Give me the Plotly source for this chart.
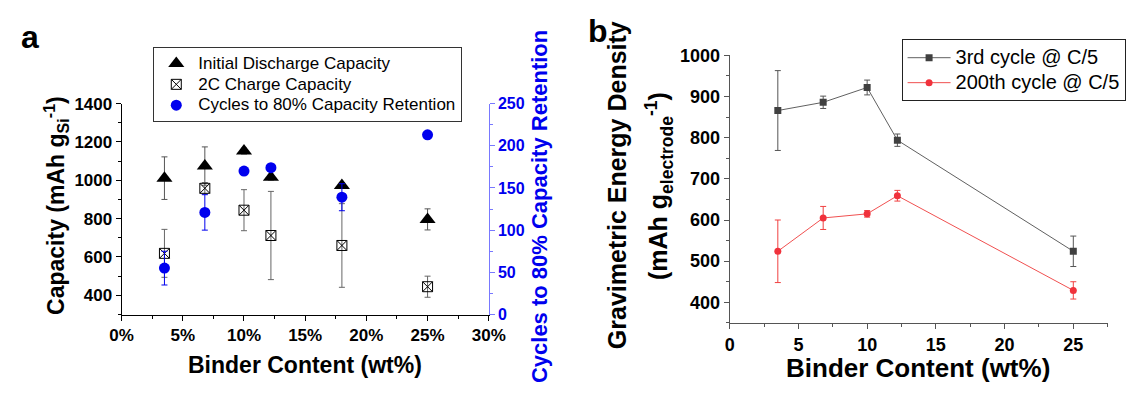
import plotly.graph_objects as go

# ---- Panel a: capacity and cycle life vs. binder content ----
binder_a = [0.035, 0.068, 0.10, 0.122, 0.18, 0.25]
initial_discharge = [1011, 1074, 1152, 1016, 973, 796]
initial_discharge_err = [111, 100, 15, 15, 15, 55]
charge_2c = [619, 958, 844, 712, 660, 445]
charge_2c_err = [125, 30, 107, 230, 218, 55]
cycles_80 = [55, 121, 170, 174, 139, 213]
cycles_80_err = [20, 21, 4, 4, 16, 0]

# ---- Panel b: gravimetric energy density ----
binder_b = [3.5, 6.8, 10, 12.2, 25]
third_cycle = [866, 886, 922, 794, 524]
third_cycle_err = [97, 15, 18, 15, 37]
cycle_200 = [524, 605, 615, 659, 429]
cycle_200_err = [76, 28, 8, 13, 21]

W, H = 1131, 393
FONT = "Arial, 'Liberation Sans', sans-serif"
BLUE = "#0000ee"


def px_x(p):
    return p / W


def px_y(p):
    return 1 - p / H


def entry(label, size):
    # legend rows are spaced by the legend font; the label itself is drawn larger
    return f'<span style="font-size:{size}px">{label}</span>'


fig = go.Figure()

fig.add_trace(go.Scatter(
    x=binder_a, y=initial_discharge, mode="markers",
    name=entry("Initial Discharge Capacity", 17),
    marker=dict(symbol="triangle-up", size=14, color="black"),
    error_y=dict(type="data", array=initial_discharge_err, color="#555555", thickness=1, width=3),
    xaxis="x", yaxis="y", legend="legend",
))
fig.add_trace(go.Scatter(
    x=binder_a, y=charge_2c, mode="markers",
    name=entry("2C Charge Capacity", 17),
    marker=dict(symbol="square-x-open", size=10, color="black", line=dict(width=1)),
    error_y=dict(type="data", array=charge_2c_err, color="#666666", thickness=1, width=3),
    xaxis="x", yaxis="y", legend="legend",
))
fig.add_trace(go.Scatter(
    x=binder_a, y=cycles_80, mode="markers",
    name=entry("Cycles to 80% Capacity Retention", 17),
    marker=dict(symbol="circle", size=11, color=BLUE),
    error_y=dict(type="data", array=cycles_80_err, color=BLUE, thickness=1, width=3),
    xaxis="x", yaxis="y2", legend="legend",
))

fig.add_trace(go.Scatter(
    x=binder_b, y=third_cycle, mode="lines+markers",
    name=entry("3rd cycle @ C/5", 20),
    line=dict(color="#606060", width=1),
    marker=dict(symbol="square", size=7, color="#404040"),
    error_y=dict(type="data", array=third_cycle_err, color="#555555", thickness=1, width=3),
    xaxis="x2", yaxis="y3", legend="legend2",
))
fig.add_trace(go.Scatter(
    x=binder_b, y=cycle_200, mode="lines+markers",
    name=entry("200th cycle @ C/5", 20),
    line=dict(color="#f05050", width=1),
    marker=dict(symbol="circle", size=7, color="#f0323c"),
    error_y=dict(type="data", array=cycle_200_err, color="#f04040", thickness=1, width=3),
    xaxis="x2", yaxis="y3", legend="legend2",
))

tick_a = dict(family=FONT, size=17, color="black", weight="bold")
tick_b = dict(family=FONT, size=18, color="black", weight="bold")
common = dict(showgrid=False, zeroline=False, showline=True, linewidth=1, ticks="outside", ticklen=5)

fig.update_layout(
    width=W, height=H,
    margin=dict(l=0, r=0, t=0, b=0),
    paper_bgcolor="white", plot_bgcolor="white",
    font=dict(family=FONT),
    xaxis=dict(domain=[px_x(112.5), px_x(489.3)], anchor="y", range=[0, 0.30], dtick=0.05,
               tickformat=".0%", linecolor="black", tickcolor="black", tickfont=tick_a,
               minor=dict(dtick=0.025, ticks="outside", ticklen=3, tickcolor="black"), **common),
    yaxis=dict(domain=[px_y(320), px_y(98.3)], anchor="x", range=[300, 1400], tick0=0, dtick=200,
               linecolor="black", tickcolor="black", tickfont=tick_a,
               minor=dict(dtick=100, ticks="outside", ticklen=3, tickcolor="black"), **common),
    yaxis2=dict(overlaying="y", side="right", anchor="x", range=[0, 250], dtick=50,
                linecolor="#7878ff", tickcolor="#7878ff",
                tickfont=dict(family=FONT, size=16, color=BLUE, weight="bold"),
                minor=dict(dtick=25, ticks="outside", ticklen=3, tickcolor="#7878ff"), **common),
    xaxis2=dict(domain=[px_x(736.6), px_x(1124.5)], anchor="y3", range=[0, 27.5], dtick=5,
                linecolor="#555555", tickcolor="#555555", tickfont=tick_b,
                minor=dict(dtick=2.5, ticks="outside", ticklen=3, tickcolor="#555555"), **common),
    yaxis3=dict(domain=[px_y(328.8), px_y(47.7)], anchor="x2", range=[350, 1000], dtick=100,
                linecolor="#555555", tickcolor="#555555", tickfont=tick_b,
                minor=dict(dtick=50, ticks="outside", ticklen=3, tickcolor="#555555"), **common),
    legend=dict(x=px_x(145), y=px_y(39), xanchor="left", yanchor="top",
                bgcolor="white", bordercolor="#333333", borderwidth=1, itemwidth=34,
                font=dict(family=FONT, size=13.7, color="black"), tracegroupgap=0),
    legend2=dict(x=px_x(913), y=px_y(30.7), xanchor="left", yanchor="top",
                 bgcolor="white", bordercolor="#222222", borderwidth=1, itemwidth=43,
                 font=dict(family=FONT, size=16.9, color="black"), tracegroupgap=0),
    showlegend=True,
)

ann = [
    dict(text="a", x=px_x(18), y=px_y(28), font=dict(size=32, weight="bold")),
    dict(text="b", x=px_x(601), y=px_y(22), font=dict(size=32, weight="bold")),
    dict(text="Capacity (mAh g<sub>Si</sub><sup>-1</sup>)", x=px_x(45), y=px_y(205),
         textangle=-90, font=dict(size=23, weight="bold")),
    dict(text="Cycles to 80% Capacity Retention", x=px_x(542), y=px_y(207),
         textangle=-90, font=dict(size=22, weight="bold", color=BLUE)),
    dict(text="Binder Content (wt%)", x=px_x(300.5), y=px_y(373), font=dict(size=23, weight="bold")),
    dict(text="Gravimetric Energy Density", x=px_x(621), y=px_y(184),
         textangle=-90, font=dict(size=25, weight="bold")),
    dict(text="(mAh g<sub>electrode</sub><sup>-1</sup>)", x=px_x(664), y=px_y(185),
         textangle=-90, font=dict(size=25, weight="bold")),
    dict(text="Binder Content (wt%)", x=px_x(930), y=px_y(376), font=dict(size=26, weight="bold")),
]
for a in ann:
    a.update(xref="paper", yref="paper", showarrow=False, xanchor="center", yanchor="middle")
    a["font"].setdefault("color", "black")
    a["font"]["family"] = FONT
fig.update_layout(annotations=ann)

fig.write_html("out.html")
